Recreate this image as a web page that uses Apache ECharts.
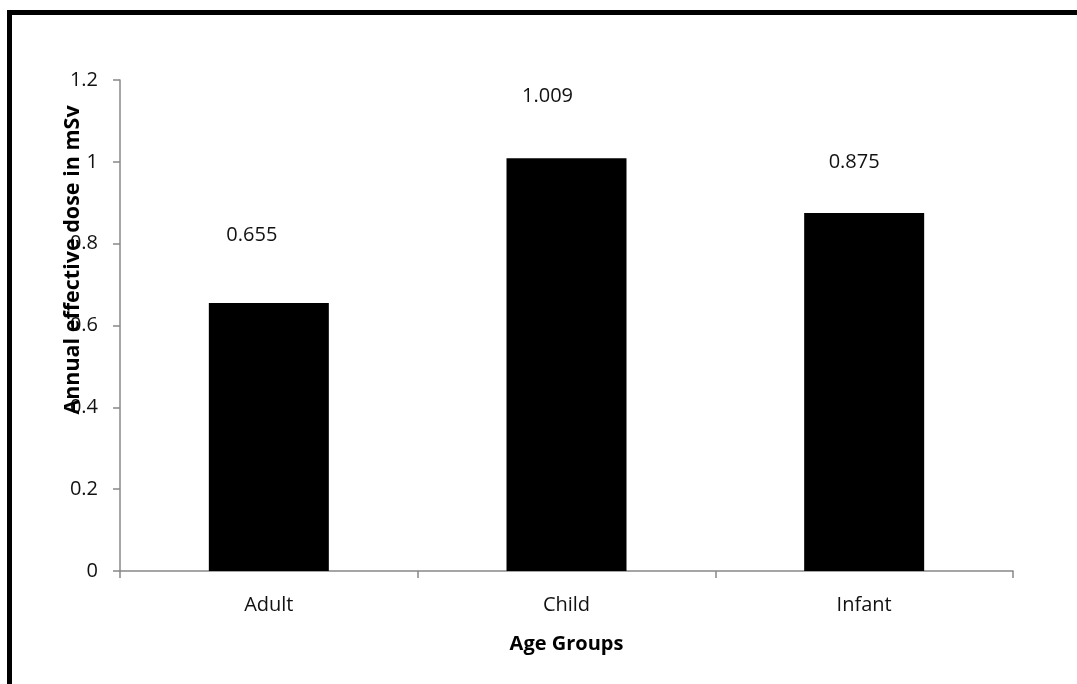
<!DOCTYPE html>
<html>
<head>
<meta charset="utf-8">
<title>Annual effective dose by age group</title>
<script src="https://cdn.jsdelivr.net/npm/echarts@6/dist/echarts.min.js"></script>
<style>
  html, body { margin: 0; padding: 0; background: #fff; }
  #chart { width: 1077px; height: 684px; }
</style>
</head>
<body>
<div id="chart"></div>
<script>
// Age groups and their annual effective dose (mSv)
const categories = ['Adult', 'Child', 'Infant'];
const doseValues = [0.655, 1.009, 0.875];
const yTicks = { min: 0, max: 1.2, interval: 0.2 };

const FONT = '"Open Sans", sans-serif';

// Hand-placed value labels: horizontal shift and gap above each bar
const labelShift = [-17, -19, -10];
const labelGap = [58, 52, 41];

const chart = echarts.init(document.getElementById('chart'), null, { renderer: 'canvas' });

chart.setOption({
  animation: false,
  backgroundColor: '#ffffff',
  grid: { left: 120, right: 64, top: 80, bottom: 113, containLabel: false },
  xAxis: {
    type: 'category',
    data: categories,
    boundaryGap: true,
    name: 'Age Groups',
    nameLocation: 'middle',
    nameGap: 63,
    nameTextStyle: { fontFamily: FONT, fontSize: 20, fontWeight: 'bold', color: '#000' },
    axisLine: { lineStyle: { color: '#888888', width: 1.5 } },
    axisTick: { show: true, alignWithLabel: false, length: 7, inside: false, lineStyle: { color: '#888888', width: 1.5 } },
    axisLabel: { fontFamily: FONT, fontSize: 20, color: '#111', margin: 24 },
    splitLine: { show: false }
  },
  yAxis: {
    type: 'value',
    min: yTicks.min,
    max: yTicks.max,
    interval: yTicks.interval,
    axisLine: { show: true, lineStyle: { color: '#888888', width: 1.5 } },
    axisTick: { show: true, length: 7, inside: false, lineStyle: { color: '#888888', width: 1.5 } },
    axisLabel: {
      fontFamily: FONT, fontSize: 20, color: '#111', margin: 22,
      formatter: v => String(Math.round(v * 10) / 10)
    },
    splitLine: { show: false }
  },
  series: [{
    type: 'bar',
    barWidth: 120,
    itemStyle: { color: '#000000' },
    data: doseValues.map((v, i) => ({
      value: v,
      label: {
        show: true,
        position: 'top',
        distance: labelGap[i],
        offset: [labelShift[i], 0],
        fontFamily: FONT,
        fontSize: 20,
        color: '#111',
        formatter: p => p.value.toFixed(3)
      }
    }))
  }],
  graphic: [
    // frame along the left and top edges
    { type: 'rect', shape: { x: 7, y: 10, width: 5, height: 674 }, style: { fill: '#000' }, silent: true },
    { type: 'rect', shape: { x: 7, y: 10, width: 1070, height: 5 }, style: { fill: '#000' }, silent: true },
    // vertical axis title
    {
      type: 'text',
      x: 73, y: 260,
      rotation: Math.PI / 2,
      style: {
        text: 'Annual effective dose in mSv',
        fontFamily: FONT, fontSize: 21.5, fontWeight: 'bold', fill: '#000',
        align: 'center', verticalAlign: 'middle'
      },
      z: 100
    }
  ]
});
</script>
</body>
</html>
